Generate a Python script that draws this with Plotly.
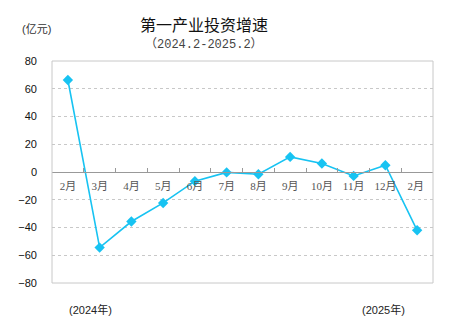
import plotly.graph_objects as go

months = ["2月", "3月", "4月", "5月", "6月", "7月", "8月", "9月", "10月", "11月", "12月", "2月 "]
values = [66.3, -54.5, -35.7, -22.3, -6.6, -0.3, -1.6, 10.9, 6.1, -2.8, 4.9, -42.0]
y_ticks = [80, 60, 40, 20, 0, -20, -40, -60, -80]

title_text = "第一产业投资增速"
subtitle_text = "（2024.2-2025.2）"
unit_text = "(亿元)"
year_labels = ["(2024年)", "(2025年)"]

fig = go.Figure()
fig.add_trace(go.Scatter(
    x=months, y=values, mode="lines+markers",
    line=dict(color="#17C3F2", width=1.6),
    marker=dict(symbol="diamond", size=8, color="#17C3F2"),
    showlegend=False, cliponaxis=False,
))

fig.update_layout(
    width=470, height=327,
    margin=dict(l=52, r=37, t=61, b=44),
    paper_bgcolor="white", plot_bgcolor="white",
    xaxis=dict(
        type="category", anchor="free", position=0.5, range=[-0.5, len(months) - 0.5],
        showline=True, linecolor="#999999", linewidth=1,
        ticks="inside", tickson="boundaries", ticklen=4, tickcolor="#999999",
        showgrid=False, zeroline=False, tickangle=0,
        tickfont=dict(family="Liberation Serif, Noto Sans CJK SC", size=11, color="#555555"),
        ticklabelstandoff=4,
    ),
    yaxis=dict(
        range=[-80, 80], tickvals=y_ticks, showgrid=True,
        gridcolor="#C8C8C8", griddash="dot", gridwidth=1,
        zeroline=False, showline=False, ticks="",
        tickfont=dict(family="Liberation Sans, Arial", size=11, color="#111111"),
        ticklabelstandoff=14,
    ),
    shapes=[dict(type="rect", xref="paper", yref="paper", x0=0, x1=1, y0=0, y1=1,
                 line=dict(color="#C8C8C8", width=1), layer="above")],
    annotations=[
        dict(text=title_text, xref="paper", yref="paper", x=0.399, y=1.0, yshift=37,
             xanchor="center", yanchor="middle",
             showarrow=False, font=dict(family="Noto Sans CJK SC", size=16, color="#111111")),
        dict(text=subtitle_text, xref="paper", yref="paper", x=0.399, y=1.0, yshift=17,
             xanchor="center", yanchor="middle",
             showarrow=False, font=dict(family="Liberation Mono, Noto Sans CJK SC", size=12, color="#444444")),
        dict(text=unit_text, xref="paper", yref="paper", x=0, y=1.0, xshift=-16, yshift=32,
             xanchor="center", yanchor="middle",
             showarrow=False, font=dict(family="Liberation Sans, Noto Sans CJK SC", size=11, color="#333333")),
        dict(text=year_labels[0], xref="paper", yref="paper", x=0.102, y=0, yshift=-26,
             xanchor="center", yanchor="middle",
             showarrow=False, font=dict(family="Liberation Sans, Noto Sans CJK SC", size=11, color="#222222")),
        dict(text=year_labels[1], xref="paper", yref="paper", x=0.871, y=0, yshift=-26,
             xanchor="center", yanchor="middle",
             showarrow=False, font=dict(family="Liberation Sans, Noto Sans CJK SC", size=11, color="#222222")),
    ],
)

fig.write_html("out.html")
